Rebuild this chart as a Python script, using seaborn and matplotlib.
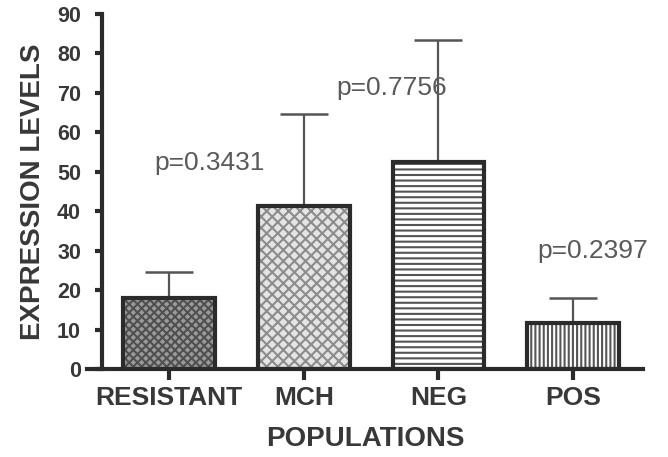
import matplotlib
matplotlib.use("Agg")
import matplotlib.pyplot as plt
import seaborn as sns
import numpy as np
import pandas as pd

# ---- data ----
populations = ["RESISTANT", "MCH", "NEG", "POS"]
means = [18.0, 41.2, 52.4, 11.7]
upper_err = [6.7, 23.4, 31.1, 6.4]
p_labels = ["p=0.3431", "p=0.7756", "p=0.2397"]
p_x = [0.30, 1.65, 3.15]
p_y = [52.2, 71.2, 30.0]
y_ticks = [0, 10, 20, 30, 40, 50, 60, 70, 80, 90]

sns.set_style("ticks")
plt.rcParams["font.family"] = ["Liberation Sans", "DejaVu Sans"]
plt.rcParams["hatch.linewidth"] = 1.5

df = pd.DataFrame({"population": populations, "mean": means})

fig = plt.figure(figsize=(6.68, 4.57), dpi=100)
ax = fig.add_axes([87 / 668, 88 / 457, 556 / 668, 355 / 457])

dark = "#2b2b2b"
txt = "#383838"

# fill layer (hatched)
sns.barplot(data=df, x="population", y="mean", ax=ax, width=0.68,
            color="white", errorbar=None, linewidth=0, zorder=2)
faces = ["#9a9a9a", "#e4e4e4", "#ffffff", "#ffffff"]
hatch_cols = ["#505050", "#8c8c8c", "#555555", "#555555"]
hatches = ["xxxx", "xxx", "---", "||||"]
fill_patches = list(ax.patches)
for p, fc, hc, h in zip(fill_patches, faces, hatch_cols, hatches):
    p.set_facecolor(fc)
    p.set_edgecolor(hc)
    p.set_hatch(h)
    p.set_linewidth(0)

# outline layer
sns.barplot(data=df, x="population", y="mean", ax=ax, width=0.68,
            color="white", errorbar=None, zorder=4)
for p in ax.patches[len(fill_patches):]:
    p.set_facecolor("none")
    p.set_edgecolor(dark)
    p.set_linewidth(3.0)
    p.set_zorder(4)

# error bars (upper only)
centers = [p.get_x() + p.get_width() / 2 for p in fill_patches]
ax.errorbar(centers, means, yerr=[np.zeros(len(means)), upper_err],
            fmt="none", ecolor="#555555", elinewidth=1.6, capsize=17,
            capthick=1.8, zorder=3)

# p-value annotations
for lbl, x, y in zip(p_labels, p_x, p_y):
    ax.text(x, y, lbl, ha="center", va="center", fontsize=19,
            color="#5a5a5a")

ax.set_ylim(0, 90)
ax.set_xlim(-0.61, 3.52)
ax.set_yticks(y_ticks)
ax.spines["left"].set_position(("data", -0.5))
ax.spines["left"].set_bounds(0, 90)
for s in ["left", "bottom"]:
    ax.spines[s].set_linewidth(3.0)
    ax.spines[s].set_color(dark)
    ax.spines[s].set_zorder(5)
sns.despine(ax=ax)

ax.tick_params(axis="y", direction="out", length=5, width=3, color=dark,
               labelsize=15.5, labelcolor=txt, pad=10)
ax.tick_params(axis="x", direction="out", length=8, width=3, color=dark,
               labelsize=19, labelcolor=txt, pad=4)
for lab in ax.get_xticklabels() + ax.get_yticklabels():
    lab.set_fontweight("bold")

ax.set_xlabel("POPULATIONS", fontsize=20, fontweight="bold", color=txt,
              labelpad=12)
ax.set_ylabel("EXPRESSION LEVELS", fontsize=20, fontweight="bold",
              color=txt, labelpad=8)

fig.savefig("out.png", dpi=100, facecolor="white")
